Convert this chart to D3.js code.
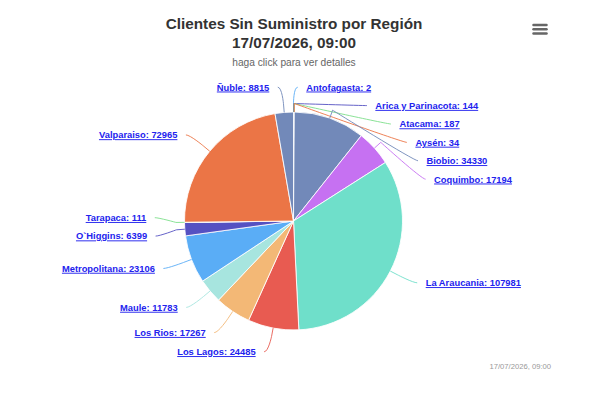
<!DOCTYPE html>
<html>
<head>
<meta charset="utf-8">
<script src="https://cdn.jsdelivr.net/npm/d3@7"></script>
<style>
  body { margin: 0; background: #ffffff; }
  svg { display: block; font-family: "Liberation Sans", Arial, Helvetica, sans-serif; }
</style>
</head>
<body>
<svg id="chart" width="600" height="400"></svg>
<script>
// ---- data ----
const regions = ["Antofagasta", "Arica y Parinacota", "Atacama", "Aysén", "Biobio", "Coquimbo",
  "La Araucania", "Los Lagos", "Los Rios", "Maule", "Metropolitana", "O`Higgins", "Tarapaca",
  "Valparaiso", "Ñuble"];
const clients = [2, 144, 187, 34, 34330, 17194, 107981, 24485, 17267, 11783, 23106, 6399, 111, 72965, 8815];
const palette = ["#5aadf6", "#5551c2", "#7ddf8a", "#eb7546", "#7289b9", "#c671f2", "#6fdfca",
  "#e85b51", "#f3b876", "#a7e5df"];
const titleLines = ["Clientes Sin Suministro por Región", "17/07/2026, 09:00"];
const subtitleText = "haga click para ver detalles";
const creditText = "17/07/2026, 09:00";

// ---- layout ----
const svg = d3.select("#chart");
const W = 600, H = 400;
const cx = 293.5, cy = 221, r = 109;
const labelDistance = 25.5, padding = 4.25, connectorPadding = 4.25, connectorOffset = 8.5;
const R = r + labelDistance;
const boundTop = 78, boundBottom = 361, boxH = 18.4;

svg.append("rect").attr("width", W).attr("height", H).attr("fill", "#ffffff");

// title
const title = svg.append("text").attr("text-anchor", "middle").attr("fill", "#333333")
  .style("font-size", "15.3px").style("font-weight", "bold");
titleLines.forEach((t, i) => title.append("tspan").attr("x", 294).attr("y", 29.3 + i * 18.4).text(t));
svg.append("text").attr("x", 294).attr("y", 66).attr("text-anchor", "middle")
  .attr("fill", "#666666").style("font-size", "10.2px").text(subtitleText);

// menu icon
const menuY = d3.range(3).map(i => 25 + i * 4.2);
svg.append("g").selectAll("line").data(menuY).join("line")
  .attr("x1", 533.5).attr("x2", 546.5).attr("y1", d => d).attr("y2", d => d)
  .attr("stroke", "#666666").attr("stroke-width", 2.5).attr("stroke-linecap", "round");

// credits
svg.append("text").attr("x", 551).attr("y", 368.5).attr("text-anchor", "end")
  .attr("fill", "#999999").style("font-size", "7.65px").text(creditText);

// pie
const color = d3.scaleOrdinal().domain(d3.range(regions.length)).range(palette);
const pie = d3.pie().sort(null).value(d => d.v).startAngle(0).endAngle(2 * Math.PI);
const data = pie(regions.map((n, i) => ({ name: n, v: clients[i], i })));
const arc = d3.arc().innerRadius(0).outerRadius(r);

const g = svg.append("g").attr("transform", `translate(${cx},${cy})`);
g.selectAll("path").data(data).join("path")
  .attr("d", arc)
  .attr("fill", d => color(d.data.i))
  .attr("stroke", "#ffffff").attr("stroke-width", 0.85).attr("stroke-linejoin", "round");

// label geometry (Highcharts-like placement)
data.forEach(d => {
  const a = (d.startAngle + d.endAngle) / 2;
  d.mid = a;
  d.left = a > Math.PI;
  d.touch = [cx + r * Math.sin(a), cy - r * Math.cos(a)];
  d.brk = [cx + (r + connectorOffset) * Math.sin(a), cy - (r + connectorOffset) * Math.cos(a)];
  d.naturalY = cy - R * Math.cos(a);
});

function distribute(items) {
  const len = boundBottom - boundTop;
  items.sort((a, b) => a.naturalY - b.naturalY);
  let boxes = items.map(it => ({ targets: [it.naturalY - boundTop], size: boxH, items: [it], pos: 0 }));
  let overlapping = true;
  while (overlapping) {
    boxes.forEach(b => {
      const t = (Math.min(...b.targets) + Math.max(...b.targets)) / 2;
      b.pos = Math.max(0, Math.min(t - b.size / 2, len - b.size));
    });
    overlapping = false;
    for (let i = boxes.length - 1; i > 0; i--) {
      const p = boxes[i - 1], c = boxes[i];
      if (p.pos + p.size > c.pos) {
        p.size += c.size;
        p.targets = p.targets.concat(c.targets);
        p.items = p.items.concat(c.items);
        boxes.splice(i, 1);
        overlapping = true;
      }
    }
  }
  boxes.forEach(b => b.items.forEach((it, k) => { it.labelY = boundTop + b.pos + k * boxH + boxH / 2; }));
}
distribute(data.filter(d => !d.left));
distribute(data.filter(d => d.left));

function getX(y, left) {
  const s = Math.max(-1, Math.min(1, (y - cy) / R));
  return cx + (left ? -1 : 1) * (Math.cos(Math.asin(s)) * R + padding);
}
data.forEach(d => {
  const y = d.labelY;
  const nearEdge = y < boundTop + boxH / 2 + 2 || y > boundBottom - boxH / 2 - 2;
  d.anchor = [getX(nearEdge ? d.naturalY : y, d.left), y];
});

// connectors
const cg = svg.append("g");
cg.selectAll("path").data(data).join("path")
  .attr("fill", "none")
  .attr("stroke", d => color(d.data.i))
  .attr("stroke-width", 0.9)
  .attr("d", d => {
    const p = d3.path();
    const [ax, ay] = d.anchor;
    p.moveTo(ax, ay);
    p.bezierCurveTo(ax + (d.left ? 4.25 : -4.25), ay, d.brk[0], d.brk[1], d.brk[0], d.brk[1]);
    p.lineTo(d.touch[0], d.touch[1]);
    return p.toString();
  });

// labels
svg.append("g").selectAll("text").data(data).join("text")
  .attr("x", d => d.anchor[0] + (d.left ? -1 : 1) * (connectorPadding + padding))
  .attr("y", d => d.anchor[1] + 3.3)
  .attr("text-anchor", d => d.left ? "end" : "start")
  .attr("fill", "#2222ee")
  .style("font-size", "9.35px").style("font-weight", "bold")
  .style("text-decoration", "underline")
  .text(d => `${d.data.name}: ${d.data.v}`);
</script>
</body>
</html>
